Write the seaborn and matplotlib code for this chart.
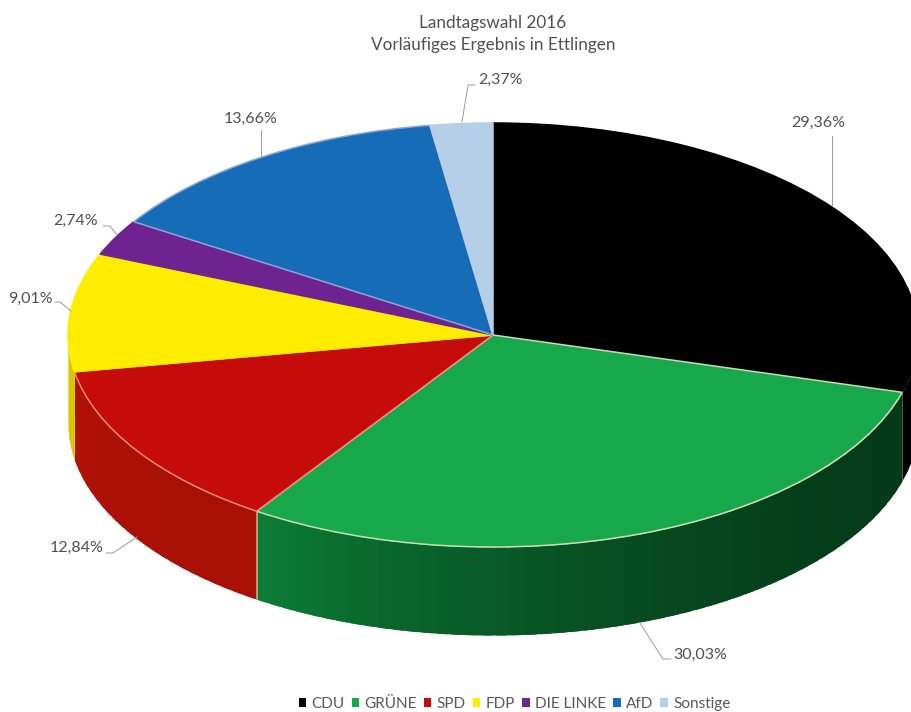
import numpy as np
import matplotlib
matplotlib.use("Agg")
import matplotlib.pyplot as plt
import seaborn as sns

# Election results
parties = ["CDU", "GRÜNE", "SPD", "FDP", "DIE LINKE", "AfD", "Sonstige"]
shares = [29.36, 30.03, 12.84, 9.01, 2.74, 13.66, 2.37]
title_lines = ["Landtagswahl 2016", "Vorläufiges Ergebnis in Ettlingen"]

top_colors = ["#000000", "#17a84b", "#c60c0a", "#ffed00", "#6f2391", "#176cb8", "#b5cfe8"]
edge_colors = ["#000000", "#c9dcae", "#ee8a70", "#ffed00", "#6f2391", "#8aa6d8", "#b5cfe8"]
# Rim shading per party: colour at the slice's clockwise start and end
rim_colors = [("#000000", "#000000"), ("#053a18", "#0b7d37"), ("#a81006", "#b01208"),
              ("#d8c800", "#d8c800"), ("#4a1760", "#4a1760"), ("#0f4a80", "#0f4a80"),
              ("#7f92a4", "#7f92a4")]

# Leader polylines and label anchors, in figure pixels
leaders = [[(832, 205), (832, 136)],
           [(640, 623), (663, 659), (671, 659)],
           [(137, 537), (113, 553), (106, 553)],
           [(71, 311), (60, 302), (55, 302)],
           [(117, 235), (110, 226), (103, 226)],
           [(261, 157), (261, 130)],
           [(462, 122), (468, 85), (475, 85)]]
label_pos = [(818, 123), (700, 655), (77, 548), (30, 299), (76, 221), (251, 119), (500, 80)]

W, H = 911, 712
CX, CY, RX, RY, DEPTH = 493, 335, 425, 212, 88

sns.set_theme(style="white")
plt.rcParams["font.family"] = ["Lato", "DejaVu Sans"]
palette = sns.color_palette(top_colors)
text_color = "#505050"

fig = plt.figure(figsize=(W / 100, H / 100), dpi=100, facecolor="white")

# Axes where the unit circle becomes the tilted ellipse of the disc
ax_top, ax_bottom = 100, 680
ax = fig.add_axes([(CX - RX) / W, 1 - ax_bottom / H, 2 * RX / W, (ax_bottom - ax_top) / H])
wedges, _ = ax.pie(shares, colors=palette, startangle=90, counterclock=False, radius=1,
                   wedgeprops={"linewidth": 1.1})
ax.set_aspect("auto")
ax.set_xlim(-1, 1)
ax.set_ylim((CY - ax_bottom) / RY, (CY - ax_top) / RY)
for w, ec in zip(wedges, edge_colors):
    w.set_edgecolor(ec)
    w.set_zorder(3)

# Cylinder rim below the disc, only on the front half
depth = DEPTH / RY
edges = np.concatenate([[0], np.cumsum(shares)]) / sum(shares) * 360
for i, (a, b) in enumerate(zip(edges[:-1], edges[1:])):
    lo, hi = max(a, 90), min(b, 270)
    if hi <= lo:
        continue
    c0, c1 = (np.array(matplotlib.colors.to_rgb(c)) for c in rim_colors[i])
    steps = np.arange(lo, hi, 2.0).tolist() + [hi]
    # Painted right to left with overlap so neighbouring bands leave no seams
    for t0, t1 in reversed(list(zip(steps[:-1], steps[1:]))):
        f = (((t0 + t1) / 2 - lo) / max(hi - lo, 1e-6)) ** 2
        col = c0 + (c1 - c0) * f
        th = np.radians(np.linspace(max(t0 - 1.5, lo), t1, 6))
        ax.fill_between(np.sin(th), np.cos(th), np.cos(th) - depth, facecolor=col, lw=0, zorder=1)

# Seam on the rim where GRÜNE meets SPD
seam = np.radians(edges[2])
ax.plot([np.sin(seam)] * 2, [np.cos(seam), np.cos(seam) - depth], color="#c9a57e", lw=1.2, zorder=2)

# Overlay in pixel coordinates for leader lines and labels
ov = fig.add_axes([0, 0, 1, 1], facecolor="none")
ov.set_xlim(0, W)
ov.set_ylim(H, 0)
ov.axis("off")
for pts, pos, v in zip(leaders, label_pos, shares):
    xs, ys = zip(*pts)
    ov.plot(xs, ys, color="#9a9a9a", lw=0.7)
    ov.text(pos[0], pos[1], f"{v:.2f}".replace(".", ",") + "%", ha="center", va="center",
            fontsize=11.5, color=text_color)

ov.text(493, 23, title_lines[0], ha="center", va="center", fontsize=12.3, color=text_color)
ov.text(493, 45, title_lines[1], ha="center", va="center", fontsize=12.3, color=text_color)

leg = fig.legend(wedges, parties, ncol=7, loc="center", bbox_to_anchor=(514.5 / W, 1 - 704 / H),
                 frameon=False, fontsize=11, labelcolor="#595959", handlelength=0.5,
                 handleheight=0.5, handletextpad=0.35, columnspacing=0.45)
for h, c in zip(leg.legend_handles, palette):
    h.set_edgecolor(c)
    h.set_linewidth(0)

fig.savefig("out.png", dpi=100, facecolor="white")
